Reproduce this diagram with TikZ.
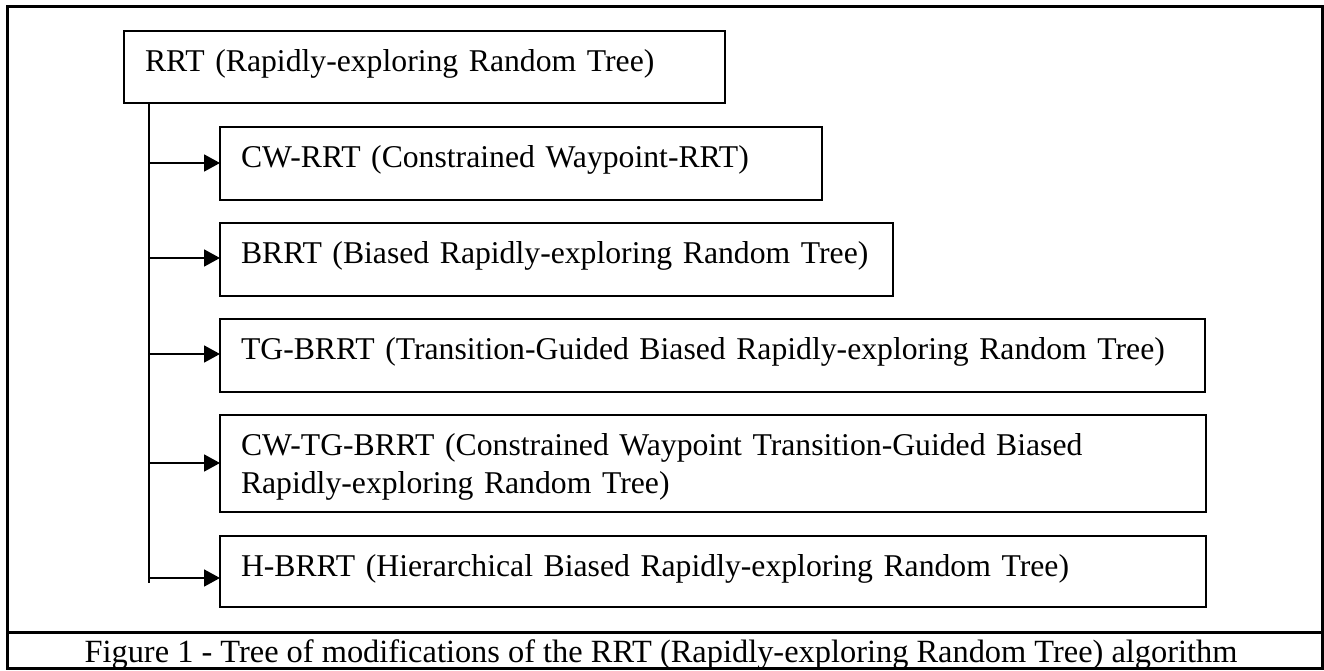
\documentclass[tikz,border=0pt]{standalone}
\usepackage{fontspec}
\setmainfont{Liberation Serif}
\usetikzlibrary{arrows.meta}
\begin{document}
\begin{tikzpicture}[x=1pt,y=-1pt,
  txt/.style={font=\fontsize{31.7}{38}\selectfont},
  captxt/.style={font=\fontsize{32.4}{38}\selectfont},
  box/.style={txt, draw, line width=1.6pt, anchor=north west, outer sep=0pt,
    inner xsep=21pt, inner ysep=0pt, align=left, text height=40.5pt},
  trunk/.style={line width=1.8pt},
  link/.style={line width=1.8pt, -{Triangle[length=16pt,width=17pt]}},
  frame/.style={line width=3pt}]
\useasboundingbox (0,0) rectangle (1324,671);

% outer frame with the caption row
\draw[frame] (7,7) rectangle (1322.5,668.5);
\draw[frame] (7,632) -- (1322.5,632);

% root and its modifications
\node[box, text width=559pt, text depth=31.5pt] (rrt) at (124,31)
  {RRT (Rapidly-exploring Random Tree)};
\node[box, text width=560pt, text depth=32.5pt] (cw) at (220,127)
  {CW-RRT (Constrained Waypoint-RRT)};
\node[box, text width=631pt, text depth=32.5pt] (brrt) at (220,223)
  {BRRT (Biased Rapidly-exploring Random Tree)};
\node[box, text width=943pt, text depth=32.5pt] (tg) at (220,319)
  {TG-BRRT (Transition-Guided Biased Rapidly-exploring Random Tree)};
\node[box, text width=944pt, text depth=56.5pt] (cwtg) at (220,415)
  {CW-TG-BRRT (Constrained Waypoint Transition-Guided Biased\\
   Rapidly-exploring Random Tree)};
\node[box, text width=944pt, text depth=30.5pt] (hb) at (220,536)
  {H-BRRT (Hierarchical Biased Rapidly-exploring Random Tree)};

% caption
\node[captxt, anchor=base, inner sep=0pt] (cap) at (661,662.5)
  {Figure 1 - Tree of modifications of the RRT (Rapidly-exploring Random Tree) algorithm};

% trunk and branches
\coordinate (t0) at ([xshift=25pt]rrt.south west);
\coordinate (t1) at (149,583);
\draw[trunk] (t0) -- (t1);
\foreach \n/\y in {cw/163, brrt/258, tg/354, cwtg/463, hb/578}{
  \coordinate (j\n) at (149,\y);
  \draw[link] (j\n) -- (j\n -| \n.west);
}
\end{tikzpicture}
\end{document}
